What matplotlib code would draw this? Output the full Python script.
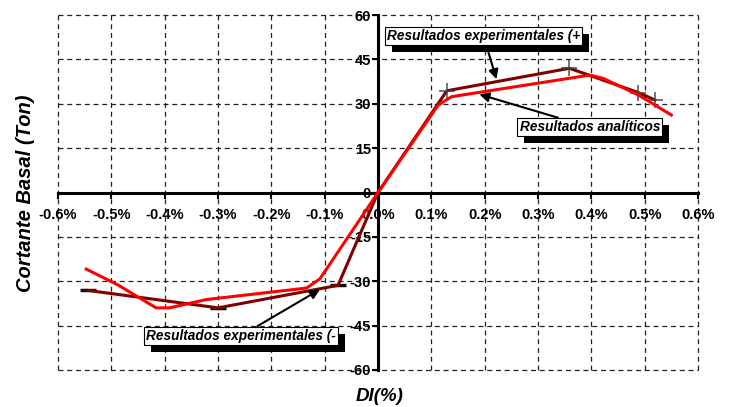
import matplotlib

matplotlib.use("Agg")

import matplotlib.pyplot as plt
import matplotlib.patheffects as pe
from matplotlib.ticker import FuncFormatter, MultipleLocator

plt.rcParams["font.family"] = ["Liberation Sans", "DejaVu Sans"]

# deriva (%) / cortante basal (Ton)
exp_pos_x = [0.0, 0.129, 0.359, 0.488, 0.519]
exp_pos_y = [0.0, 34.4, 42.0, 33.8, 31.3]

exp_neg_x = [0.0, -0.075, -0.300, -0.544]
exp_neg_y = [0.0, -31.4, -39.0, -33.1]

ana_x = [-0.547, -0.488, -0.416, -0.391, -0.322, -0.134, -0.109, 0.0,
         0.113, 0.138, 0.397, 0.422, 0.488, 0.550]
ana_y = [-25.9, -31.2, -39.0, -39.0, -36.2, -32.3, -29.2, 0.0,
         29.6, 32.4, 39.7, 38.6, 33.0, 26.2]

lbl_exp_pos = "Resultados experimentales (+"
lbl_ana = "Resultados analíticos"
lbl_exp_neg = "Resultados experimentales (-"

DARK_RED = "#800000"
RED = "#FF0000"

fig = plt.figure(figsize=(7.32, 4.07), dpi=100)
ax = fig.add_axes([0.0792, 0.091, 0.8744, 0.872])

ax.set_xlim(-0.6, 0.6)
ax.set_ylim(-60, 60)
ax.xaxis.set_major_locator(MultipleLocator(0.1))
ax.yaxis.set_major_locator(MultipleLocator(15))
ax.xaxis.set_major_formatter(FuncFormatter(lambda v, _: f"{v:.1f}%"))
ax.yaxis.set_major_formatter(FuncFormatter(lambda v, _: f"{v:.0f}"))

# ejes cruzando en el origen, marco formado por la rejilla
for side in ("top", "right"):
    ax.spines[side].set_visible(False)
ax.spines["left"].set_position(("data", 0))
ax.spines["bottom"].set_position(("data", 0))
for side in ("left", "bottom"):
    ax.spines[side].set_linewidth(2.2)
    ax.spines[side].set_zorder(1.5)

ax.tick_params(direction="out", length=4, width=1.5, labelsize=10.5)
ax.tick_params(axis="x", pad=7)
ax.tick_params(axis="y", pad=1)
for t in ax.get_xticklabels() + ax.get_yticklabels():
    t.set_fontweight("bold")

ax.grid(True, linestyle=(0, (4, 3)), linewidth=0.9, color="#222222")
for gl in ax.get_xgridlines() + ax.get_ygridlines():
    gl.set_clip_on(False)
ax.set_axisbelow(True)

ax.plot(exp_pos_x, exp_pos_y, color=DARK_RED, lw=2.2, zorder=3)
ax.plot(exp_neg_x, exp_neg_y, color=DARK_RED, lw=2.2, zorder=3)
ax.plot(exp_pos_x[1:], exp_pos_y[1:], ls="none", marker="+", ms=11, mew=1.3,
        color="#444444", alpha=0.8, zorder=4)
ax.plot(exp_neg_x[1:], exp_neg_y[1:], ls="none", marker="_", ms=11, mew=2.5,
        color="#111111", zorder=2.9)
ax.plot(ana_x, ana_y, color=RED, lw=2.2, zorder=5)

box = dict(boxstyle="square,pad=0.15", fc="white", ec="black", lw=0.8)
arrow = dict(arrowstyle="-|>", color="black", lw=1.5, mutation_scale=14,
             shrinkA=0, shrinkB=0)
shadow = [pe.withSimplePatchShadow(offset=(5, -5), shadow_rgbFace="black", alpha=1.0)]

for text, xy, xytext in [
    (lbl_exp_pos, (0.222, 38.3), (0.198, 52.9)),
    (lbl_ana, (0.190, 33.2), (0.397, 22.1)),
    (lbl_exp_neg, (-0.109, -32.8), (-0.2565, -48.4)),
]:
    an = ax.annotate(text, xy=xy, xytext=xytext, ha="center", va="center",
                     fontsize=9.8, fontweight="bold", fontstyle="italic",
                     bbox=box, arrowprops=arrow, zorder=6)
    an.get_bbox_patch().set_path_effects(shadow)

fig.text(0.035, 0.525, "Cortante Basal (Ton)", rotation=90, ha="center", va="center",
         fontsize=14.5, fontweight="bold", fontstyle="italic")
fig.text(0.518, 0.027, "DI(%)", ha="center", va="center",
         fontsize=13.5, fontweight="bold", fontstyle="italic")

fig.savefig("out.png", dpi=100)
